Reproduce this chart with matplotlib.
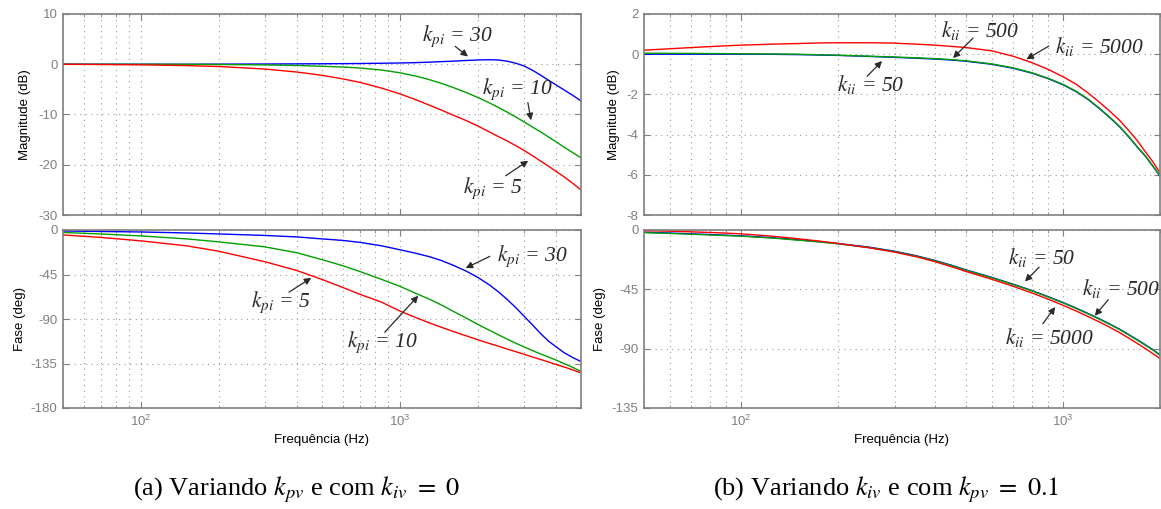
import matplotlib
matplotlib.use('Agg')
import matplotlib.pyplot as plt, numpy as np
from matplotlib.ticker import FixedLocator, FixedFormatter, NullFormatter, LogLocator

plt.rcParams['font.family'] = ['Liberation Sans', 'DejaVu Sans']
plt.rcParams['mathtext.fontset'] = 'stix'
plt.rcParams['axes.unicode_minus'] = False

# ---- data: (a) varying kpi ----
freq_a = [50, 70, 100, 150, 200, 300, 400, 500, 600, 700, 850, 1000, 1150, 1300, 1450,
          1600, 1800, 2000, 2200, 2400, 2600, 2800, 3000, 3250, 3500, 3750, 4000, 4300, 4650, 5000]
mag_kpi30 = [0, 0, 0, 0, 0.02, 0.05, 0.08, 0.1, 0.12, 0.15, 0.2, 0.25, 0.32, 0.42, 0.52,
             0.62, 0.75, 0.85, 0.9, 0.85, 0.6, 0.2, -0.3, -1.2, -2.2, -3.2, -4.1, -5.1, -6.2, -7.3]
mag_kpi10 = [0, 0, 0, -0.02, -0.05, -0.13, -0.25, -0.4, -0.55, -0.75, -1.15, -1.7, -2.35, -3.07, -3.83,
             -4.6, -5.62, -6.62, -7.61, -8.6, -9.56, -10.5, -11.4, -12.5, -13.5, -14.5, -15.4, -16.5, -17.6, -18.6]
mag_kpi5 = [0, -0.05, -0.12, -0.27, -0.45, -0.95, -1.55, -2.2, -2.9, -3.6, -4.75, -5.9, -7.05, -8.15, -9.15,
            -10.1, -11.2, -12.3, -13.4, -14.4, -15.3, -16.2, -17.1, -18.2, -19.3, -20.3, -21.3, -22.4, -23.7, -25.0]
ph_kpi30 = [-1, -1.5, -2, -3, -4, -5.5, -7, -9, -10.5, -12.5, -16, -20, -23.5, -27, -31,
            -35.5, -41.5, -48, -55, -62.5, -70.5, -78.5, -86.6, -96, -105, -112.5, -118, -124, -129, -133]
ph_kpi10 = [-2.5, -4, -6, -9, -12, -17, -23, -30, -36, -42, -50, -57, -64, -70, -76,
            -82, -89, -95.5, -101, -106, -110.5, -114.5, -118, -122, -125.5, -128.5, -131.5, -135, -139, -143]
ph_kpi5 = [-5, -7.5, -11, -16, -21.5, -32, -41, -50, -58, -65, -73, -82, -88.5, -94, -98.5,
           -102.5, -107, -111, -114.5, -117.5, -120.5, -123, -125.5, -128.5, -131, -133.5, -136, -138.5, -141.5, -144.5]

# ---- data: (b) varying kii ----
freq_b = [50, 60, 70, 85, 100, 125, 150, 175, 200, 250, 300, 350, 400, 450, 500,
          600, 700, 800, 900, 1000, 1100, 1200, 1300, 1400, 1500, 1600, 1700, 1800, 1900, 2000]
mag_kii50 = [0.0, 0.0, 0.0, 0.0, 0.0, -0.005, -0.02, -0.04, -0.06, -0.11, -0.155, -0.2, -0.24, -0.29, -0.35,
             -0.5, -0.7, -0.94, -1.22, -1.52, -1.87, -2.27, -2.72, -3.17, -3.62, -4.12, -4.62, -5.07, -5.57, -6.07]
mag_kii500 = [0.05, 0.045, 0.04, 0.03, 0.02, 0.01, 0.0, -0.03, -0.05, -0.1, -0.14, -0.18, -0.22, -0.27, -0.33,
              -0.48, -0.68, -0.92, -1.2, -1.5, -1.85, -2.25, -2.7, -3.15, -3.6, -4.1, -4.6, -5.05, -5.55, -6.05]
mag_kii5000 = [0.2, 0.27, 0.33, 0.4, 0.45, 0.5, 0.53, 0.56, 0.57, 0.57, 0.55, 0.5, 0.45, 0.39, 0.33,
               0.17, -0.1, -0.42, -0.76, -1.12, -1.5, -1.95, -2.4, -2.85, -3.3, -3.8, -4.3, -4.85, -5.35, -5.9]
ph_kii50 = [-1.7, -2.3, -2.9, -3.7, -4.4, -5.8, -7.4, -8.8, -10.2, -13.0, -16.1, -19.5, -23.1, -26.7, -30.3,
            -35.9, -41.1, -45.9, -50.6, -55.0, -59.3, -63.5, -67.5, -71.4, -75.3, -79.3, -83.2, -87.0, -90.7, -94.7]
ph_kii500 = [-2, -2.6, -3.2, -4, -4.7, -6.1, -7.7, -9.1, -10.5, -13.3, -16.4, -19.8, -23.4, -27, -30.6,
             -36.2, -41.4, -46.2, -50.9, -55.3, -59.6, -63.8, -67.8, -71.7, -75.6, -79.6, -83.5, -87.3, -91, -95]
ph_kii5000 = [-0.5, -0.9, -1.4, -2.1, -2.9, -4.7, -6.6, -8.4, -10.2, -13.5, -16.8, -20.3, -24, -27.8, -31.5,
              -37.3, -42.7, -47.7, -52.5, -57.1, -61.5, -65.8, -69.9, -73.9, -77.9, -82, -86, -89.9, -93.7, -97.5]

W, H = 1161, 509
fig = plt.figure(figsize=(W / 100, H / 100), dpi=100)

axL1 = fig.add_axes([63 / W, 1 - 215 / H, 518 / W, 201 / H])
axL2 = fig.add_axes([63 / W, 1 - 408 / H, 518 / W, 178 / H])
axR1 = fig.add_axes([644 / W, 1 - 215 / H, 516 / W, 201 / H])
axR2 = fig.add_axes([644 / W, 1 - 408 / H, 516 / W, 178 / H])

gray = '#808080'

def style(ax, xmax, yticks, ylabel, lab_x, xlabels):
    ax.set_xscale('log')
    ax.set_xlim(50, xmax)
    ax.set_ylim(yticks[0], yticks[-1])
    ax.yaxis.set_major_locator(FixedLocator(yticks))
    ax.xaxis.set_major_locator(FixedLocator([100, 1000]))
    ax.xaxis.set_minor_locator(LogLocator(base=10, subs=np.arange(2, 10)))
    ax.xaxis.set_minor_formatter(NullFormatter())
    if xlabels:
        ax.xaxis.set_major_formatter(FixedFormatter([r'$\mathregular{10^{2}}$', r'$\mathregular{10^{3}}$']))
        ax.set_xlabel('Frequência (Hz)', fontsize=9.5, labelpad=4)
    else:
        ax.xaxis.set_major_formatter(NullFormatter())
    ax.set_ylabel(ylabel, fontsize=9.5)
    ax.yaxis.set_label_coords(lab_x, 0.5)
    for s in ax.spines.values():
        s.set_color(gray)
        s.set_linewidth(1.2)
    ax.tick_params(which='both', direction='in', top=True, right=True, colors=gray,
                   labelcolor=gray, labelsize=9.5, pad=4)
    ax.tick_params(which='major', length=4)
    ax.tick_params(which='minor', length=2)
    ax.grid(True, which='major', ls=(0, (1, 4)), color='#9a9a9a', lw=0.8)
    ax.xaxis.grid(True, which='minor', ls=(0, (1, 4)), color='#9a9a9a', lw=0.8)

def note(ax, label, txt_xy, tail, head):
    ax.text(txt_xy[0], txt_xy[1], label, fontsize=15.5, fontfamily='Liberation Serif',
            fontstyle='italic', ha='center', va='center', color='#2a2a2a')
    ax.annotate('', xy=head, xytext=tail,
                arrowprops=dict(arrowstyle='-|>', color='#2a2a2a', lw=0.9, mutation_scale=10))

# (a) magnitude
axL1.plot(freq_a, mag_kpi30, color='b', lw=1)
axL1.plot(freq_a, mag_kpi10, color='#00a000', lw=1)
axL1.plot(freq_a, mag_kpi5, color='r', lw=1)
style(axL1, 5000, [-30, -20, -10, 0, 10], 'Magnitude (dB)', -0.062, False)
note(axL1, r'$k_{pi}$ = 30', (1663, 5.5), (1603, 3.9), (1866, 1.2))
note(axL1, r'$k_{pi}$ = 10', (2838, -4.9), (3104, -7.1), (3220, -11.7))
note(axL1, r'$k_{pi}$ = 5', (2292, -24.7), (2506, -22.5), (3193, -18.9))

# (a) phase
axL2.plot(freq_a, ph_kpi30, color='b', lw=1)
axL2.plot(freq_a, ph_kpi10, color='#00a000', lw=1)
axL2.plot(freq_a, ph_kpi5, color='r', lw=1)
style(axL2, 5000, [-180, -135, -90, -45, 0], 'Fase (deg)', -0.072, True)
note(axL2, r'$k_{pi}$ = 30', (3250, -26.4), (2274, -25.4), (1754, -39.7))
note(axL2, r'$k_{pi}$ = 5', (346, -72.6), (365, -64.4), (464, -46.9))
note(axL2, r'$k_{pi}$ = 10', (859, -113.6), (859, -105.4), (1197, -64.4))

# (b) magnitude
axR1.plot(freq_b, mag_kii50, color='b', lw=1)
axR1.plot(freq_b, mag_kii500, color='#00a000', lw=1)
axR1.plot(freq_b, mag_kii5000, color='r', lw=1)
style(axR1, 2000, [-8, -6, -4, -2, 0, 2], 'Magnitude (dB)', -0.047, False)
note(axR1, r'$k_{ii}$ = 500', (552, 1.2), (533, 0.9), (449, -0.29))
note(axR1, r'$k_{ii}$ = 5000', (1294, 0.4), (918, 0.47), (757, -0.32))
note(axR1, r'$k_{ii}$ = 50', (253, -1.5), (243, -1.2), (278, -0.24))

# (b) phase
axR2.plot(freq_b, ph_kii50, color='b', lw=1)
axR2.plot(freq_b, ph_kii500, color='#00a000', lw=1)
axR2.plot(freq_b, ph_kii5000, color='r', lw=1)
style(axR2, 2000, [-135, -90, -45, 0], 'Fase (deg)', -0.074, True)
note(axR2, r'$k_{ii}$ = 50', (861, -20.5), (855, -26.7), (751, -40.5))
note(axR2, r'$k_{ii}$ = 500', (1514, -44.4), (1399, -51.3), (1239, -66.7))
note(axR2, r'$k_{ii}$ = 5000', (905, -81.3), (855, -72.8), (957, -56.7))

fig.text(297 / W, 1 - 490 / H, r'(a) Variando $k_{pv}$ e com $k_{iv}\ =\ 0$',
         fontfamily='Liberation Serif', fontsize=19, ha='center', va='center')
fig.text(886 / W, 1 - 490 / H, r'(b) Variando $k_{iv}$ e com $k_{pv}\ =\ 0.1$',
         fontfamily='Liberation Serif', fontsize=19, ha='center', va='center')

fig.savefig('out.png', dpi=100)
